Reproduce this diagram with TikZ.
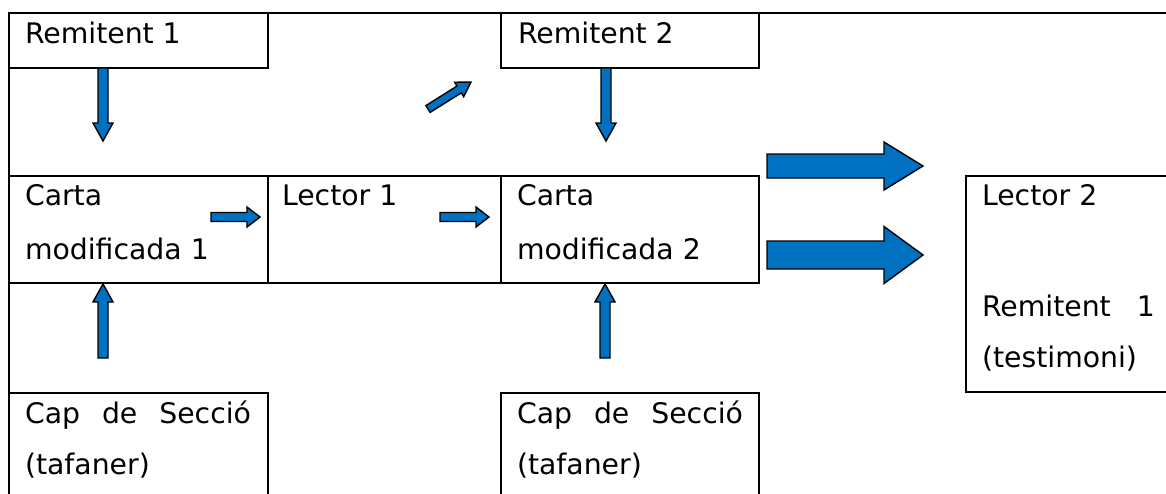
\documentclass[tikz,border=0pt]{standalone}
\usepackage{fontspec}
\setmainfont{DejaVu Sans}
\usetikzlibrary{calc}
\definecolor{flowblue}{HTML}{0070C0}

\tikzset{
  rule/.style={line width=2pt, draw=black},
  cell/.style={rule, rectangle, anchor=north west, inner sep=0pt, outer sep=0pt},
  lbl/.style={anchor=base west, inner sep=0pt, outer sep=0pt, font=\fontsize{28.3}{34}\selectfont},
  flow/.style={fill=flowblue, draw=black, line width=1.4pt, line join=miter},
}

% Block arrow from coordinate #1 to coordinate #2;
% #3 half shaft width, #4 half head width, #5 head length (all in pt)
\newcommand\blockarrow[5]{%
  \path let \p1=(#1), \p2=(#2) in \pgfextra{%
    \pgfmathsetmacro\barang{atan2(\y2-\y1,\x2-\x1)}%
    \pgfmathsetmacro\barlen{veclen(\x2-\x1,\y2-\y1)}%
    \xdef\barangG{\barang}\xdef\barlenG{\barlen}};
  \begin{scope}[shift={(#1)}, rotate=\barangG]
    \draw[flow] (0pt,-#3pt) -- ({\barlenG pt-#5pt},-#3pt) -- ({\barlenG pt-#5pt},-#4pt)
      -- (\barlenG pt,0pt) -- ({\barlenG pt-#5pt},#4pt) -- ({\barlenG pt-#5pt},#3pt)
      -- (0pt,#3pt) -- cycle;
  \end{scope}}

\begin{document}
\begin{tikzpicture}[x=1pt, y=-1pt]
\useasboundingbox (0,0) rectangle (1166,493);
\clip (0,0) rectangle (1166,493);

% outer frame
\draw[rule] (1180,13) -- (9,13) -- (9,520);

% cells
\node[cell, minimum width=259pt, minimum height=55pt]  (rem1)    at (9,13)    {};
\node[cell, minimum width=258pt, minimum height=55pt]  (rem2)    at (501,13)  {};
\node[cell, minimum width=259pt, minimum height=107pt] (carta1)  at (9,176)   {};
\node[cell, minimum width=233pt, minimum height=107pt] (lector1) at (268,176) {};
\node[cell, minimum width=258pt, minimum height=107pt] (carta2)  at (501,176) {};
\node[cell, minimum width=259pt, minimum height=130pt] (cap1)    at (9,393)   {};
\node[cell, minimum width=258pt, minimum height=130pt] (cap2)    at (501,393) {};
\node[cell, minimum width=214pt, minimum height=216pt] (lector2) at (966,176) {};

% texts
\node[lbl] (trem1)  at (25,43)   {Remitent 1};
\node[lbl] (trem2)  at (518,43)  {Remitent 2};
\node[lbl] (tcarta1a) at (25,205) {Carta};
\node[lbl] (tcarta1b) at (25,259) {modificada 1};
\node[lbl] (tlector1) at (282,205) {Lector 1};
\node[lbl] (tcarta2a) at (517,205) {Carta};
\node[lbl] (tcarta2b) at (517,259) {modificada 2};
\node[lbl] (tlector2a) at (982,205) {Lector 2};
\node[lbl] (tlector2b) at (982,316) {\makebox[173pt][s]{Remitent 1}};
\node[lbl] (tlector2c) at (982,367) {(testimoni)};
\node[lbl] (tcap1a) at (25,423)  {\makebox[226pt][s]{Cap de Secció}};
\node[lbl] (tcap1b) at (25,474)  {(tafaner)};
\node[lbl] (tcap2a) at (517,423) {\makebox[226pt][s]{Cap de Secció}};
\node[lbl] (tcap2b) at (517,474) {(tafaner)};

% arrow end points
\coordinate (d1s) at (103,68);  \coordinate (d1e) at (103,141);
\coordinate (d2s) at (606,68);  \coordinate (d2e) at (606,141);
\coordinate (gs)  at (428,109); \coordinate (ge)  at (471,82);
\coordinate (u1s) at (103,358); \coordinate (u1e) at (103,284);
\coordinate (u2s) at (605,358); \coordinate (u2e) at (605,284);
\coordinate (r1s) at (211,217); \coordinate (r1e) at (260,217);
\coordinate (r2s) at (440,217); \coordinate (r2e) at (489,217);
\coordinate (b1s) at (767,166); \coordinate (b1e) at (923,166);
\coordinate (b2s) at (767,255); \coordinate (b2e) at (923,255);

% arrows
\blockarrow{d1s}{d1e}{5}{10}{18}
\blockarrow{d2s}{d2e}{5}{10}{18}
\blockarrow{gs}{ge}{4}{8.5}{14}
\blockarrow{u1s}{u1e}{5}{10}{18}
\blockarrow{u2s}{u2e}{5}{10}{18}
\blockarrow{r1s}{r1e}{4.5}{10}{13}
\blockarrow{r2s}{r2e}{4.5}{10}{13}
\blockarrow{b1s}{b1e}{12}{24}{39}
\blockarrow{b2s}{b2e}{14}{28.5}{39}
\end{tikzpicture}
\end{document}
